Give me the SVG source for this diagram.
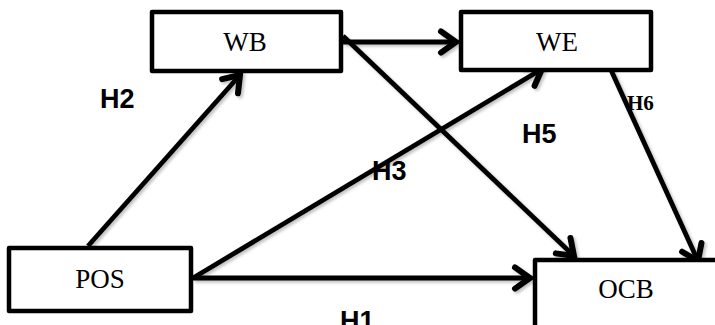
<svg xmlns="http://www.w3.org/2000/svg" width="715" height="325" viewBox="0 0 715 325">
  <style>
    .box { fill: #fff; stroke: #000; stroke-width: 4.5; stroke-linejoin: round; }
    .name { font-family: "Liberation Serif", "Times New Roman", serif; font-size: 27px; text-anchor: middle; fill: #000; }
    .link { fill: none; stroke: #000; stroke-width: 4.8; marker-end: url(#head); }
    .hyp { font-family: "Liberation Sans", Arial, sans-serif; font-weight: bold; font-size: 27px; fill: #000; }
    .hyp-serif { font-family: "Liberation Serif", "Times New Roman", serif; font-weight: bold; font-size: 21px; fill: #000; }
  </style>
  <defs>
    <marker id="head" markerUnits="userSpaceOnUse" markerWidth="30" markerHeight="30" refX="0" refY="0" viewBox="-16 -12 20 24" orient="auto" overflow="visible">
      <path d="M -12 -8.5 L 0 0 L -12 8.5" fill="none" stroke="#000" stroke-width="4.8" stroke-linecap="round" stroke-linejoin="miter"/>
    </marker>
    <!-- soft shadow under the arrows -->
    <filter id="shade" x="-10%" y="-10%" width="120%" height="120%">
      <feDropShadow dx="2" dy="2" stdDeviation="1.5" flood-color="#000" flood-opacity="0.25"/>
    </filter>
  </defs>
  <rect width="715" height="325" fill="#fff"/>

  <g id="connectors" filter="url(#shade)">
    <line class="link" x1="88" y1="246" x2="240" y2="75"/>
    <line class="link" x1="343" y1="42" x2="456" y2="42"/>
    <line class="link" x1="343" y1="36" x2="574" y2="256"/>
    <line class="link" x1="193" y1="278" x2="542" y2="69"/>
    <line class="link" x1="193" y1="278" x2="530" y2="278"/>
    <line class="link" x1="611" y1="70" x2="698" y2="261"/>
  </g>

  <g id="WB">
    <rect class="box" x="152" y="12" width="189" height="59"/>
    <text class="name" x="245" y="51">WB</text>
  </g>
  <g id="WE">
    <rect class="box" x="461" y="12" width="190" height="58"/>
    <text class="name" x="557" y="51">WE</text>
  </g>
  <g id="POS">
    <rect class="box" x="9" y="248" width="182" height="63"/>
    <text class="name" x="100" y="288">POS</text>
  </g>
  <g id="OCB">
    <rect class="box" x="535" y="260" width="200" height="80"/>
    <text class="name" x="626" y="298">OCB</text>
  </g>

  <g id="labels">
    <text class="hyp" x="100" y="108">H2</text>
    <text class="hyp" x="372" y="180">H3</text>
    <text class="hyp" x="522" y="143">H5</text>
    <text class="hyp" x="340" y="330">H1</text>
    <text class="hyp-serif" x="627" y="110">H6</text>
  </g>
</svg>
